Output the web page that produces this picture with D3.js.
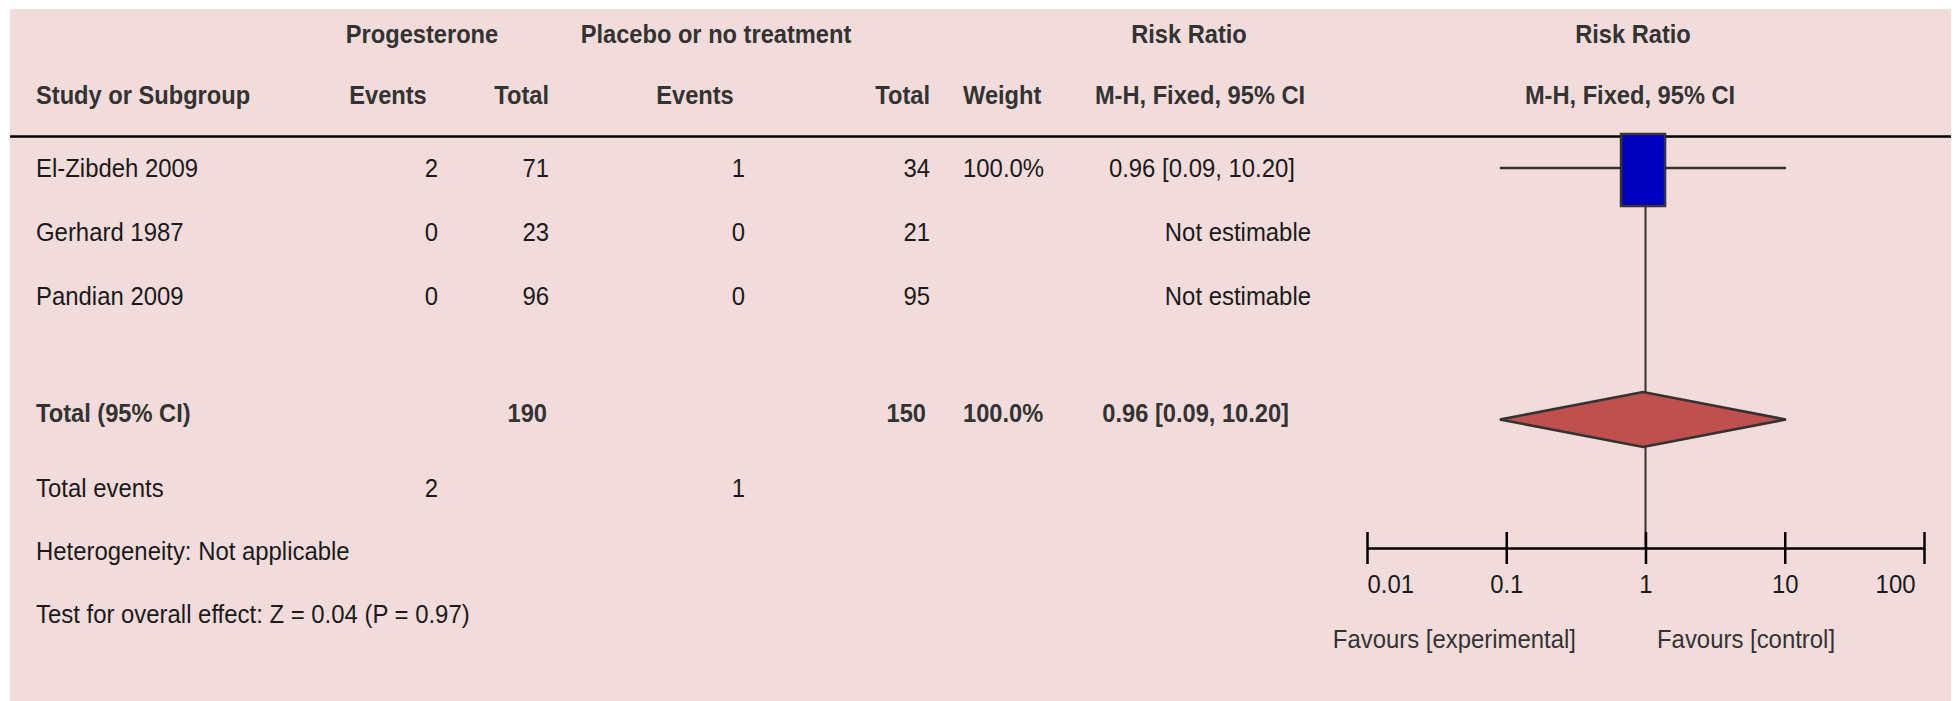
<!DOCTYPE html>
<html>
<head>
<meta charset="utf-8">
<script src="https://cdn.jsdelivr.net/npm/d3@7"></script>
<style>
  body { margin: 0; background: #ffffff; }
  svg { display: block; }
  text { font-family: "Liberation Sans", Arial, Helvetica, sans-serif; font-size: 26px; }
</style>
</head>
<body>
<svg id="chart" width="1957" height="701"></svg>
<script>
// Study-level data
const studies    = ["El-Zibdeh 2009", "Gerhard 1987", "Pandian 2009"];
const expEvents  = [2, 0, 0];
const expTotal   = [71, 23, 96];
const ctlEvents  = [1, 0, 0];
const ctlTotal   = [34, 21, 95];
const weights    = [100.0, null, null];
const riskRatio  = [0.96, null, null];
const ciLower    = [0.09, null, null];
const ciUpper    = [10.20, null, null];

// Pooled estimate (M-H, fixed effect)
const pooledRR     = [0.96, 0.09, 10.20];   // estimate, lower, upper
const pooledWeight = 100.0;

// Axis ticks and footnotes
const axisTicks = [0.01, 0.1, 1, 10, 100];
const heterogeneityText = "Heterogeneity: Not applicable";
const overallEffectText = "Test for overall effect: Z = 0.04 (P = 0.97)";
const favourLabels = ["Favours [experimental]", "Favours [control]"];

const svg = d3.select("#chart");
const SX = 0.92;           // horizontal squeeze of the narrow type
const INK = "#1a1a1a", BOLD_INK = "#333333", LINE = "#333333";

svg.append("rect")
  .attr("x", 10).attr("y", 9).attr("width", 1941).attr("height", 692)
  .attr("fill", "#f2dcdb");

function label(str, x, y, anchor = "start", bold = false, fill = null) {
  svg.append("text")
    .attr("transform", `translate(${x},${y}) scale(${bold ? 0.91 : SX},1)`)
    .attr("text-anchor", anchor)
    .attr("font-weight", bold ? "bold" : "normal")
    .attr("fill", fill || (bold ? BOLD_INK : INK))
    .text(str);
}

const fmtRR = v => v.toFixed(2);
const ciText = (r, l, u) => `${fmtRR(r)} [${fmtRR(l)}, ${fmtRR(u)}]`;
const fmtW = w => w.toFixed(1) + "%";

// Column anchors
const col = { study: 36, expEv: 438, expTot: 549, ctlEv: 745, ctlTot: 930, weight: 963, rr: 1295 };

// Header
label("Progesterone", 422, 43, "middle", true);
label("Placebo or no treatment", 716, 43, "middle", true);
label("Risk Ratio", 1189, 43, "middle", true);
label("Risk Ratio", 1633, 43, "middle", true);

label("Study or Subgroup", col.study, 104, "start", true);
label("Events", 388, 104, "middle", true);
label("Total", col.expTot, 104, "end", true);
label("Events", 695, 104, "middle", true);
label("Total", col.ctlTot, 104, "end", true);
label("Weight", col.weight, 104, "start", true);
label("M-H, Fixed, 95% CI", 1200, 104, "middle", true);
label("M-H, Fixed, 95% CI", 1630, 104, "middle", true);

svg.append("line")
  .attr("x1", 10).attr("x2", 1951).attr("y1", 136.5).attr("y2", 136.5)
  .attr("stroke", "#000").attr("stroke-width", 2.5);

// Scales
const x = d3.scaleLog().domain([0.01, 100]).range([1367, 1924]);
const rowY = d3.scaleLinear().domain([0, 1]).range([169, 233]);   // mark centre per study row

// Study rows
studies.forEach((s, i) => {
  const yb = rowY(i) + 8;
  label(s, col.study, yb);
  label(String(expEvents[i]), col.expEv, yb, "end");
  label(String(expTotal[i]), col.expTot, yb, "end");
  label(String(ctlEvents[i]), col.ctlEv, yb, "end");
  label(String(ctlTotal[i]), col.ctlTot, yb, "end");
  if (weights[i] != null) label(fmtW(weights[i]), col.weight, yb);
  if (riskRatio[i] != null) label(ciText(riskRatio[i], ciLower[i], ciUpper[i]), col.rr, yb, "end");
  else label("Not estimable", 1311, yb, "end");
});

// Totals
const yTot = 422;
label("Total (95% CI)", col.study, yTot, "start", true);
label(String(d3.sum(expTotal)), col.expTot - 2, yTot, "end", true);
label(String(d3.sum(ctlTotal)), col.ctlTot - 4, yTot, "end", true);
label(fmtW(pooledWeight), col.weight, yTot, "start", true);
label(ciText(...pooledRR), 1289, yTot, "end", true);

label("Total events", col.study, 497);
label(String(d3.sum(expEvents)), col.expEv, 497, "end");
label(String(d3.sum(ctlEvents)), col.ctlEv, 497, "end");
label(heterogeneityText, col.study, 560);
label(overallEffectText, col.study, 623);

// Plot: line of no effect
const axisY = 548;
svg.append("line")
  .attr("x1", x(1)).attr("x2", x(1)).attr("y1", 136.5).attr("y2", axisY)
  .attr("stroke", LINE).attr("stroke-width", 2);

// Study CIs and weighted boxes
const est = studies.map((s, i) => ({ i, rr: riskRatio[i], lo: ciLower[i], hi: ciUpper[i], w: weights[i] }))
  .filter(d => d.rr != null);

svg.selectAll("line.ci").data(est).join("line")
  .attr("class", "ci")
  .attr("x1", d => x(d.lo)).attr("x2", d => x(d.hi))
  .attr("y1", d => rowY(d.i) - 1).attr("y2", d => rowY(d.i) - 1)
  .attr("stroke", LINE).attr("stroke-width", 2.5);

const boxW = d3.scaleLinear().domain([0, 100]).range([0, 44]);
const boxH = d3.scaleLinear().domain([0, 100]).range([0, 72]);
svg.selectAll("rect.box").data(est).join("rect")
  .attr("class", "box")
  .attr("x", d => x(d.rr) - boxW(d.w) / 2)
  .attr("y", d => rowY(d.i) + 1 - boxH(d.w) / 2)
  .attr("width", d => boxW(d.w)).attr("height", d => boxH(d.w))
  .attr("fill", "#0000c0").attr("stroke", LINE).attr("stroke-width", 2.5);

// Pooled diamond
const dy = 419.5, dh = 27.5;
svg.append("path")
  .attr("d", `M${x(pooledRR[1])},${dy} L${x(pooledRR[0])},${dy - dh} L${x(pooledRR[2])},${dy} L${x(pooledRR[0])},${dy + dh} Z`)
  .attr("fill", "#c0504d").attr("stroke", LINE).attr("stroke-width", 2.5)
  .attr("stroke-linejoin", "miter");

// Axis
const axis = d3.axisBottom(x).tickValues(axisTicks).tickFormat(d3.format("~g")).tickSize(16).tickSizeOuter(0);
const gAxis = svg.append("g").attr("transform", `translate(0,${axisY})`).call(axis);
gAxis.select(".domain").attr("stroke", "#000").attr("stroke-width", 2.5);
gAxis.selectAll(".tick line").attr("y1", -16).attr("y2", 16).attr("stroke", "#000").attr("stroke-width", 2.5);
gAxis.selectAll(".tick text")
  .attr("y", 0).attr("dy", 0)
  .attr("font-family", null).attr("font-size", null)
  .attr("fill", INK)
  .attr("text-anchor", (d, i, n) => i === 0 ? "start" : (i === n.length - 1 ? "end" : "middle"))
  .attr("transform", (d, i, n) => `translate(${i === n.length - 1 ? -9 : 0},45) scale(${SX},1)`);

label(favourLabels[0], 1576, 648, "end", false, "#333333");
label(favourLabels[1], 1657, 648, "start", false, "#333333");
</script>
</body>
</html>
